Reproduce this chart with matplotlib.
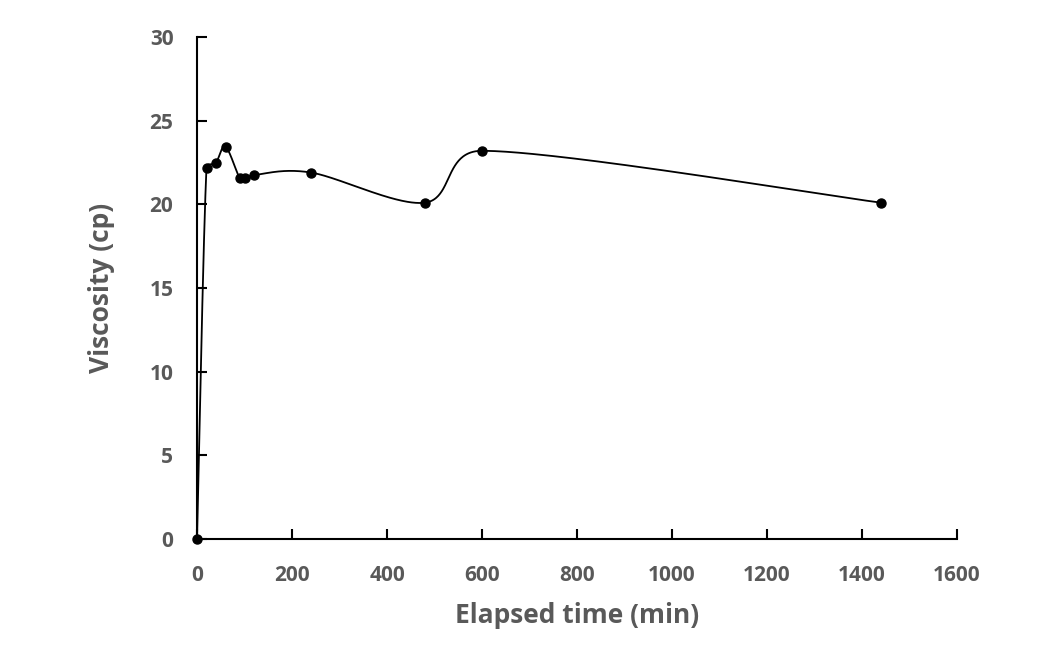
import numpy as np
import matplotlib.pyplot as plt

elapsed_min = [0, 20, 40, 60, 90, 100, 120, 240, 480, 600, 1440]
viscosity_cp = [0, 22.2, 22.5, 23.45, 21.55, 21.55, 21.75, 21.9, 20.1, 23.2, 20.1]
x_ticks = [0, 200, 400, 600, 800, 1000, 1200, 1400, 1600]
y_ticks = [0, 5, 10, 15, 20, 25, 30]

grey = '#595959'
font = ['Open Sans', 'DejaVu Sans']


def smooth_curve(xs, ys, sx, sy, n=80):
    # Excel-like smoothed line, computed in screen space (sx, sy = px per unit)
    p = np.column_stack([np.asarray(xs) * sx, np.asarray(ys) * sy]).astype(float)
    p = np.vstack([p[0], p, p[-1]])
    out = []
    for i in range(1, len(p) - 2):
        p0, p1, p2, p3 = p[i - 1], p[i], p[i + 1], p[i + 2]
        seg_len = np.linalg.norm(p2 - p1)
        h1 = (p2 - p0) / 6
        h2 = (p3 - p1) / 6
        # keep handles from overshooting short segments
        for h in (h1, h2):
            L = np.linalg.norm(h)
            if L > seg_len / 2 and L > 0:
                h *= (seg_len / 2) / L
        c1 = p1 + h1
        c2 = p2 - h2
        t = np.linspace(0, 1, n)[:, None]
        seg = ((1 - t) ** 3) * p1 + 3 * ((1 - t) ** 2) * t * c1 + 3 * (1 - t) * t ** 2 * c2 + t ** 3 * p2
        out.append(seg if i == 1 else seg[1:])
    out = np.vstack(out)
    return out[:, 0] / sx, out[:, 1] / sy


fig = plt.figure(figsize=(10.57, 6.47), dpi=100)
ax = fig.add_axes([0.1864, 0.1669, 0.7190, 0.7759])

px_x = 760 / 1600
px_y = 502 / 30
cx, cy = smooth_curve(elapsed_min, viscosity_cp, px_x, px_y)
ax.plot(cx, cy, color='black', linewidth=1.3)
ax.plot(elapsed_min, viscosity_cp, 'o', color='black', markersize=6.5, clip_on=False)

ax.set_xlim(0, 1600)
ax.set_ylim(0, 30)
ax.set_xticks(x_ticks)
ax.set_yticks(y_ticks)

for s in ['top', 'right']:
    ax.spines[s].set_visible(False)
for s in ['left', 'bottom']:
    ax.spines[s].set_linewidth(1.5)

ax.tick_params(direction='in', length=7, width=1.5, labelsize=15, colors='black', labelcolor=grey)
ax.tick_params(axis='x', pad=19)
ax.tick_params(axis='y', pad=17)
for lab in ax.get_xticklabels() + ax.get_yticklabels():
    lab.set_fontweight('bold')
    lab.set_family(font)

ax.set_xlabel('Elapsed time (min)', fontsize=19, fontweight='bold', color=grey, family=font, labelpad=11)
ax.set_ylabel('Viscosity (cp)', fontsize=19, fontweight='bold', color=grey, family=font, labelpad=25)

fig.savefig('out.png', dpi=100)
